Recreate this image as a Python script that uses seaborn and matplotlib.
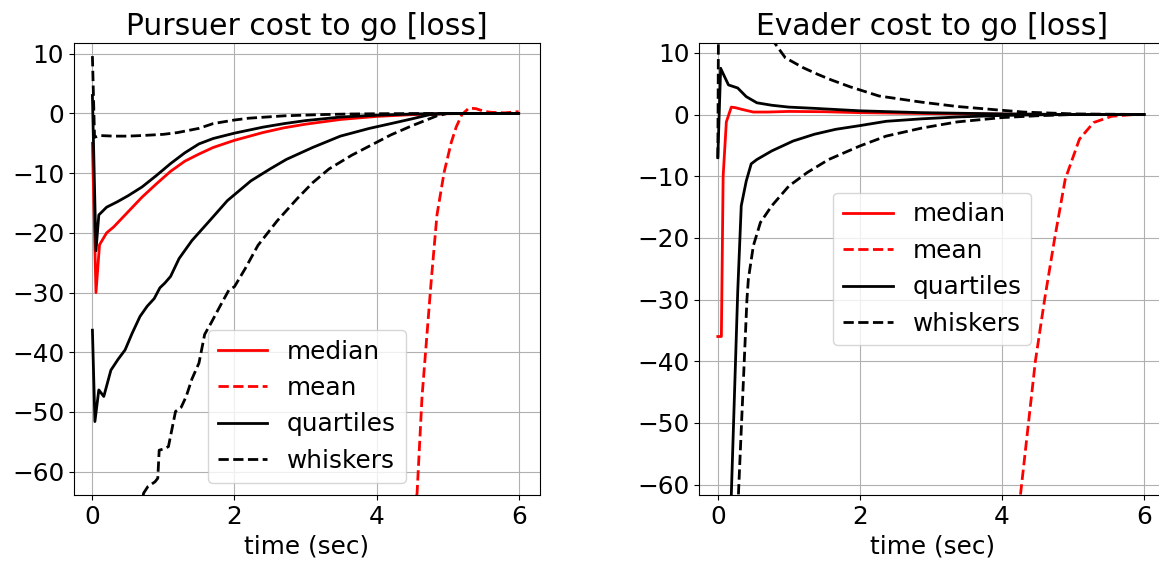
#!/usr/bin/env python3
"""
Cost-to-go percentiles for pursuer and evader (median / mean / quartiles / whiskers).
"""
import matplotlib
matplotlib.use("Agg")
import matplotlib.pyplot as plt
import seaborn as sns

# ---- pursuer panel ----
p_median_t = [0, 0.05, 0.1, 0.2, 0.3, 0.5, 0.7, 0.9, 1.1, 1.3, 1.5, 1.7, 2.0, 2.4, 2.7, 3.0, 3.5, 4.0, 4.5, 5.0, 5.5, 6.0]
p_median = [-5, -30, -22, -20, -19, -16.5, -14, -11.8, -9.7, -8, -6.8, -5.7, -4.5, -3.2, -2.4, -1.8, -1.0, -0.5, -0.2, -0.05, 0, 0]

p_mean_t = [0, 1, 2, 3, 4, 4.3, 4.57, 4.64, 4.77, 4.85, 4.95, 5.05, 5.12, 5.2, 5.3, 5.4, 5.5, 5.6, 5.8, 6.0]
p_mean = [-2000, -900, -450, -220, -110, -85, -63.6, -47.4, -27.9, -17, -9.9, -4.9, -2.3, -0.2, 0.9, 0.8, 0.4, 0.2, 0.1, 0.3]

p_q_hi_t = [0, 0.05, 0.09, 0.2, 0.35, 0.5, 0.7, 0.9, 1.1, 1.3, 1.5, 1.7, 2.0, 2.4, 2.7, 3.0, 3.5, 4.0, 4.5, 5.0, 6.0]
p_q_hi = [3, -23, -17, -15.7, -14.8, -13.8, -12.3, -10.4, -8.4, -6.6, -5.1, -4.2, -3.3, -2.3, -1.7, -1.2, -0.6, -0.3, -0.1, 0, 0]

p_q_lo_t = [0, 0.035, 0.09, 0.16, 0.26, 0.36, 0.46, 0.56, 0.67, 0.77, 0.87, 0.95, 1.02, 1.1, 1.22, 1.4, 1.67, 1.9,
            2.23, 2.5, 2.73, 3.1, 3.49, 3.9, 4.24, 4.5, 4.75, 5.0, 6.0]
p_q_lo = [-36.3, -51.6, -46.3, -47.4, -43.0, -41.2, -39.6, -36.8, -34.0, -32.3, -31.0, -29.2, -28.4, -27.3, -24.3,
          -21.3, -17.7, -14.6, -11.3, -9.3, -7.7, -5.7, -3.8, -2.5, -1.6, -0.9, -0.2, 0, 0]

p_w_hi_t = [0, 0.03, 0.1, 0.3, 0.5, 0.7, 1.0, 1.2, 1.5, 1.7, 2.0, 2.2, 2.7, 3.2, 3.6, 4.0, 5.0, 6.0]
p_w_hi = [9.6, -4.0, -3.7, -3.8, -3.8, -3.7, -3.5, -3.2, -2.5, -1.7, -1.1, -0.8, -0.4, -0.2, -0.1, -0.05, 0, 0]

p_w_lo_t = [0, 0.3, 0.55, 0.72, 0.78, 0.88, 0.92, 0.94, 1.0, 1.07, 1.17, 1.25, 1.32, 1.4, 1.5, 1.58, 1.67, 1.8,
            1.92, 2.0, 2.15, 2.33, 2.6, 2.88, 3.1, 3.33, 3.65, 3.99, 4.2, 4.49, 4.85, 5.0, 6.0]
p_w_lo = [-160, -110, -78, -63.6, -62.5, -61.7, -61.1, -56.4, -56.2, -55.8, -49.9, -49.2, -47.4, -44.5, -41.8,
          -37.0, -35.1, -32.2, -29.6, -29.0, -26.0, -22.1, -18.0, -14.3, -11.6, -9.3, -7.0, -4.9, -3.6, -2.1,
          -0.4, 0, 0]

# ---- evader panel ----
e_median_t = [0, 0.05, 0.075, 0.12, 0.19, 0.25, 0.35, 0.5, 0.7, 1.0, 1.5, 2.0, 3.0, 4.0, 5.0, 6.0]
e_median = [-36, -36, -10, -1.2, 1.2, 1.1, 0.8, 0.4, 0.4, 0.5, 0.45, 0.3, 0.15, 0.05, 0, 0]

e_mean_t = [0, 1, 2, 3, 4, 4.26, 4.47, 4.6, 4.74, 4.89, 5.09, 5.29, 5.54, 5.8, 6.0]
e_mean = [-3000, -1500, -700, -300, -110, -61.7, -40, -30, -20.2, -10.5, -4.0, -1.3, -0.3, -0.05, 0]

e_q_hi_t = [0, 0.04, 0.08, 0.15, 0.28, 0.4, 0.55, 0.76, 1.0, 1.36, 2.0, 2.87, 4.0, 5.0, 6.0]
e_q_hi = [-7.0, 7.5, 6.5, 4.8, 4.3, 2.9, 1.9, 1.5, 1.2, 1.0, 0.6, 0.3, 0.1, 0.0, 0.0]

e_q_lo_t = [0, 0.1, 0.19, 0.28, 0.33, 0.4, 0.47, 0.55, 0.76, 1.06, 1.36, 1.66, 2.0, 2.37, 2.87, 3.37, 4.0, 4.5, 5.0, 6.0]
e_q_lo = [-400, -150, -61.7, -28.8, -14.8, -10.8, -8.0, -7.3, -5.9, -4.3, -3.2, -2.4, -1.8, -1.1, -0.7, -0.4,
          -0.15, -0.05, 0, 0]

e_w_hi_t = [0, 0.03, 0.1, 0.2, 0.4, 0.6, 0.8, 0.95, 1.06, 1.2, 1.41, 1.6, 1.86, 2.27, 2.87, 3.37, 3.88, 4.3, 5.0, 6.0]
e_w_hi = [-7, 60, 40, 30, 20, 15, 11.6, 9.2, 8.5, 7.6, 6.5, 5.6, 4.5, 3.0, 2.0, 1.3, 0.8, 0.4, 0.1, 0]

e_w_lo_t = [0, 0.15, 0.29, 0.41, 0.43, 0.5, 0.6, 0.76, 1.0, 1.26, 1.56, 2.0, 2.37, 2.87, 3.37, 4.0, 4.5, 5.0, 6.0]
e_w_lo = [-500, -200, -61.7, -30, -26.7, -21.3, -17.5, -14.8, -11.6, -9.4, -7.3, -5.1, -3.5, -2.2, -1.2, -0.5,
          -0.2, 0, 0]

panels = [
    ("Pursuer cost to go [loss]", (-63.9, 11.8), "lower center",
     (p_median_t, p_median), (p_mean_t, p_mean), (p_q_hi_t, p_q_hi), (p_q_lo_t, p_q_lo),
     (p_w_hi_t, p_w_hi), (p_w_lo_t, p_w_lo)),
    ("Evader cost to go [loss]", (-61.7, 11.6), "center",
     (e_median_t, e_median), (e_mean_t, e_mean), (e_q_hi_t, e_q_hi), (e_q_lo_t, e_q_lo),
     (e_w_hi_t, e_w_hi), (e_w_lo_t, e_w_lo)),
]

fig = plt.figure(figsize=(11.59, 5.67), dpi=100)
axes = [fig.add_axes([0.0638, 0.127, 0.4021, 0.7972]),
        fig.add_axes([0.6034, 0.127, 0.4021, 0.7972])]

lw = 2.0
fs = 17.8
for ax, (title, ylim, legloc, med, mean, qhi, qlo, whi, wlo) in zip(axes, panels):
    kw = dict(ax=ax, estimator=None, sort=False, linewidth=lw)
    sns.lineplot(x=med[0], y=med[1], color="red", linestyle="-", label="median", **kw)
    sns.lineplot(x=mean[0], y=mean[1], color="red", linestyle="--", label="mean", **kw)
    sns.lineplot(x=qhi[0], y=qhi[1], color="black", linestyle="-", label="quartiles", **kw)
    sns.lineplot(x=qlo[0], y=qlo[1], color="black", linestyle="-", **kw)
    sns.lineplot(x=whi[0], y=whi[1], color="black", linestyle="--", label="whiskers", **kw)
    sns.lineplot(x=wlo[0], y=wlo[1], color="black", linestyle="--", **kw)

    ax.set_xlim(-0.26, 6.3)
    ax.set_ylim(*ylim)
    ax.set_xticks([0, 2, 4, 6])
    ax.set_yticks([10, 0, -10, -20, -30, -40, -50, -60])
    ax.grid(True, color="#b0b0b0", linewidth=0.8)
    ax.tick_params(labelsize=fs)
    ax.set_title(title, fontsize=21.4)
    ax.set_xlabel("time (sec)", fontsize=fs)
    ax.set_ylabel("")
    ax.legend(loc=legloc, fontsize=fs)

plt.savefig("out.png", dpi=100)
plt.close()
